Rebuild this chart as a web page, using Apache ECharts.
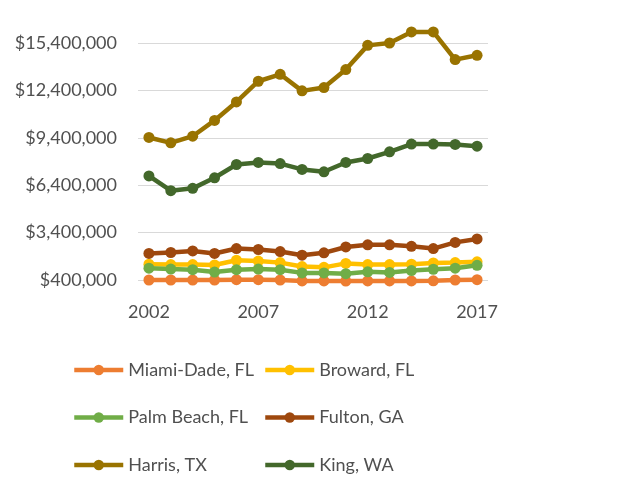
<!DOCTYPE html>
<html>
<head>
<meta charset="utf-8">
<script src="https://cdn.jsdelivr.net/npm/echarts@6/dist/echarts.min.js"></script>
<style>
html,body{margin:0;padding:0;background:#fff;}
#chart{width:628px;height:477px;}
</style>
</head>
<body>
<div id="chart"></div>
<script>
const years = ['2002','2003','2004','2005','2006','2007','2008','2009','2010','2011','2012','2013','2014','2015','2016','2017'];
const yTicks = [400000, 3400000, 6400000, 9400000, 12400000, 15400000];
const seriesNames = ['Miami-Dade, FL','Broward, FL','Palm Beach, FL','Fulton, GA','Harris, TX','King, WA'];
const miamiDade = [400000, 400000, 400000, 400000, 420000, 420000, 400000, 340000, 340000, 330000, 340000, 340000, 340000, 350000, 400000, 420000];
const broward = [1400000, 1380000, 1380000, 1350000, 1650000, 1600000, 1500000, 1250000, 1200000, 1450000, 1380000, 1380000, 1400000, 1480000, 1500000, 1550000];
const palmBeach = [1150000, 1090000, 1050000, 900000, 1050000, 1090000, 1050000, 850000, 850000, 800000, 920000, 880000, 1000000, 1080000, 1150000, 1330000];
const fulton = [2080000, 2140000, 2240000, 2080000, 2390000, 2330000, 2200000, 1970000, 2120000, 2490000, 2630000, 2630000, 2530000, 2390000, 2780000, 3000000];
const harris = [9420000, 9080000, 9500000, 10500000, 11670000, 12980000, 13420000, 12370000, 12580000, 13720000, 15250000, 15400000, 16100000, 16100000, 14350000, 14620000];
const king = [6990000, 6050000, 6200000, 6870000, 7710000, 7840000, 7770000, 7400000, 7250000, 7840000, 8090000, 8510000, 9000000, 9000000, 8980000, 8870000];

const colors = ['#ED7D31','#FFC000','#70AD47','#9E480E','#997300','#43682B'];
const dataSets = [miamiDade, broward, palmBeach, fulton, harris, king];
const FONT = 'Lato';
const TXT = '#505050';

const chart = echarts.init(document.getElementById('chart'), null, {renderer:'canvas'});

const series = seriesNames.map((n, i) => ({
  name: n,
  type: 'line',
  data: dataSets[i],
  clip: false,
  symbol: 'circle',
  symbolSize: 11,
  lineStyle: {width: 4.5, color: colors[i]},
  itemStyle: {color: colors[i]},
  emphasis: {disabled: true},
  animation: false
}));

const legendCommon = {
  orient: 'vertical',
  padding: 0,
  itemWidth: 49,
  itemHeight: 13,
  itemGap: 29.5,
  height: 130,
  selectedMode: false,
  lineStyle: {width: 4.5},
  textStyle: {fontFamily: FONT, fontSize: 18, color: TXT, lineHeight: 18}
};

chart.setOption({
  backgroundColor: '#fff',
  color: colors,
  animation: false,
  grid: {left: 138, right: 140, top: 43, height: 237, containLabel: false},
  legend: [
    Object.assign({}, legendCommon, {left: 72, top: 361, data: [seriesNames[0], seriesNames[2], seriesNames[4]]}),
    Object.assign({}, legendCommon, {left: 263, top: 361, data: [seriesNames[1], seriesNames[3], seriesNames[5]]})
  ],
  xAxis: {
    type: 'category',
    data: years,
    boundaryGap: true,
    axisLine: {show: false},
    axisTick: {show: false},
    axisLabel: {interval: 4, margin: 23, fontFamily: FONT, fontSize: 18, color: TXT}
  },
  yAxis: {
    type: 'value',
    min: 400000,
    max: 15400000,
    interval: 3000000,
    axisLine: {show: false},
    axisTick: {show: false},
    splitLine: {lineStyle: {color: '#D9D9D9', width: 1}},
    axisLabel: {
      margin: 21,
      fontFamily: FONT, fontSize: 18, color: TXT,
      formatter: v => '$' + Math.round(v).toLocaleString('en-US')
    }
  },
  series: series
});
</script>
</body>
</html>
